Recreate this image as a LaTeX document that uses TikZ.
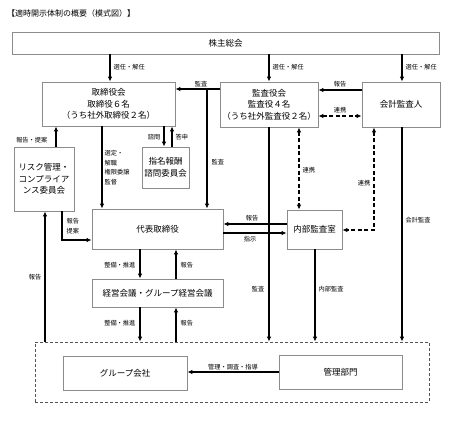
\documentclass[tikz,border=0pt]{standalone}
\usepackage{fontspec}
\setmainfont{Noto Sans CJK JP}
\usetikzlibrary{arrows.meta}
\definecolor{boxgray}{HTML}{8C8C8C}
\definecolor{dashgray}{HTML}{555555}
\begin{document}
\begin{tikzpicture}[x=1pt,y=-1pt,
  box/.style={draw=boxgray, line width=0.8pt, align=center, inner sep=0pt,
    font=\fontsize{8.5}{11.5}\selectfont},
  lbl/.style={font=\fontsize{6.2}{7.5}\selectfont, inner sep=0.5pt},
  arr/.style={line width=1.1pt, -{Latex[length=5pt,width=4.5pt]}},
  darr/.style={line width=1.1pt, dash pattern=on 4pt off 2.5pt, {Latex[length=5pt,width=4.5pt]}-{Latex[length=5pt,width=4.5pt]}},
  ln/.style={line width=1.1pt}]
\useasboundingbox (0,0) rectangle (453,424);
% title
\node[anchor=west, inner sep=0pt, font=\fontsize{8}{10}\selectfont] (title) at (7,13) {【適時開示体制の概要（模式図）】};
% boxes
\node[box, minimum width=427pt, minimum height=22pt] (kabu) at (225.5,43) {株主総会};
\node[box, minimum width=133pt, minimum height=44pt] (tori) at (108.5,104) {取締役会\\取締役６名\\（うち社外取締役２名）};
\node[box, minimum width=98pt, minimum height=45pt] (kansa) at (269,104.5) {監査役会\\監査役４名\\（うち社外監査役２名）};
\node[box, minimum width=78pt, minimum height=45pt] (kaikei) at (401,104.5) {会計監査人};
\node[box, minimum width=60pt, minimum height=64pt] (risk) at (44,179) {リスク管理・\\コンプライア\\ンス委員会};
\node[box, minimum width=47pt, minimum height=41pt] (shimei) at (165.5,167.5) {指名報酬\\諮問委員会};
\node[box, minimum width=131pt, minimum height=40pt] (daihyo) at (157.5,229) {代表取締役};
\node[box, minimum width=55pt, minimum height=39pt] (naibu) at (314.5,229.5) {内部監査室};
\node[box, minimum width=131pt, minimum height=28pt] (keiei) at (157.5,293) {経営会議・グループ経営会議};
\node[draw=dashgray, line width=0.8pt, dash pattern=on 3pt off 2pt, minimum width=394pt, minimum height=60pt, inner sep=0pt] (grp) at (232,372) {};
\node[box, minimum width=124pt, minimum height=34pt] (grpco) at (125,373) {グループ会社};
\node[box, minimum width=123pt, minimum height=34pt] (kanri) at (340.5,372) {管理部門};
% connectors from shareholders
\draw[arr] (kabu.south -| 110,0) -- (tori.north -| 110,0);
\draw[arr] (kabu.south -| kansa) -- (kansa.north);
\draw[arr] (kabu.south -| 402,0) -- (kaikei.north -| 402,0);
\node[lbl, anchor=west] (l1) at (113,67) {選任・解任};
\node[lbl, anchor=west] (l2) at (272,67) {選任・解任};
\node[lbl, anchor=west] (l3) at (405,67) {選任・解任};
% kaikei <-> kansa
\draw[arr] (kaikei.west |- 0,90) -- (kansa.east |- 0,90);
\node[lbl] (l4) at (340,84) {報告};
\draw[darr] (kansa.east |- 0,116) -- (kaikei.west |- 0,116);
\node[lbl] (l5) at (340,110) {連携};
% kansa -> tori, daihyo
\draw[arr] (kansa.west |- 0,89) -- (tori.east |- 0,89);
\node[lbl] (l6) at (201,84) {監査};
\coordinate (br) at (207,89);
\draw[arr] (br) -- (daihyo.north -| br);
\node[lbl, anchor=west] (l7) at (211,162) {監査};
% tori -> daihyo
\draw[arr] (tori.south -| 102,0) -- (daihyo.north -| 102,0);
\node[lbl, anchor=north west, align=left, font=\fontsize{6.2}{9.5}\selectfont] (l8) at (104,150) {選定・\\解職\\権限委譲\\監督};
% shimei
\draw[arr] (tori.south -| 164,0) -- (shimei.north -| 164,0);
\draw[arr] (shimei.north -| 172,0) -- (tori.south -| 172,0);
\node[lbl, anchor=east] (l9) at (161,137) {諮問};
\node[lbl, anchor=west] (l10) at (175,137) {答申};
% risk
\draw[arr] (risk.north -| 56,0) -- (tori.south -| 56,0);
\node[lbl, anchor=east] (l11) at (48,140) {報告・提案};
\coordinate (rc) at (62,240);
\draw[arr] (risk.south -| rc) -- (rc) -- (daihyo.west |- rc);
\node[lbl, anchor=west] (l12) at (66,221) {報告};
\node[lbl, anchor=west] (l13) at (66,231) {提案};
\draw[arr] (grp.north -| 45,0) -- (risk.south -| 45,0);
\node[lbl, anchor=east] (l14) at (42,277) {報告};
% naibu <-> daihyo
\draw[arr] (naibu.west |- 0,224) -- (daihyo.east |- 0,224);
\draw[arr] (daihyo.east |- 0,233) -- (naibu.west |- 0,233);
\node[lbl] (l15) at (252,218) {報告};
\node[lbl] (l16) at (250,239) {指示};
% renkei dashed
\draw[darr] (kansa.south -| 299,0) -- (naibu.north -| 299,0);
\node[lbl, anchor=west] (l17) at (302,170) {連携};
\coordinate (rk) at (374,230);
\draw[darr] (kaikei.south -| rk) -- (rk) -- (naibu.east |- rk);
\node[lbl, anchor=east] (l18) at (371,183) {連携};
% audits to group
\draw[arr] (kansa.south -| 269,0) -- (grp.north -| 269,0);
\node[lbl, anchor=east] (l19) at (265,289) {監査};
\draw[arr] (naibu.south -| 315,0) -- (grp.north -| 315,0);
\node[lbl, anchor=west] (l20) at (318,289) {内部監査};
\draw[arr] (kaikei.south -| 402,0) -- (grp.north -| 402,0);
\node[lbl, anchor=west] (l21) at (405,220) {会計監査};
% daihyo <-> keiei
\draw[arr] (daihyo.south -| 140,0) -- (keiei.north -| 140,0);
\draw[arr] (keiei.north -| 176,0) -- (daihyo.south -| 176,0);
\node[lbl, anchor=east] (l22) at (136,265) {整備・推進};
\node[lbl, anchor=west] (l23) at (180,265) {報告};
\draw[arr] (keiei.south -| 140,0) -- (grp.north -| 140,0);
\draw[arr] (grp.north -| 176,0) -- (keiei.south -| 176,0);
\node[lbl, anchor=east] (l24) at (136,323) {整備・推進};
\node[lbl, anchor=west] (l25) at (180,323) {報告};
% kanri -> grpco
\draw[arr] (kanri.west) -- (grpco.east |- kanri.west);
\node[lbl] (l26) at (233,367) {管理・調査・指導};
\end{tikzpicture}
\end{document}
